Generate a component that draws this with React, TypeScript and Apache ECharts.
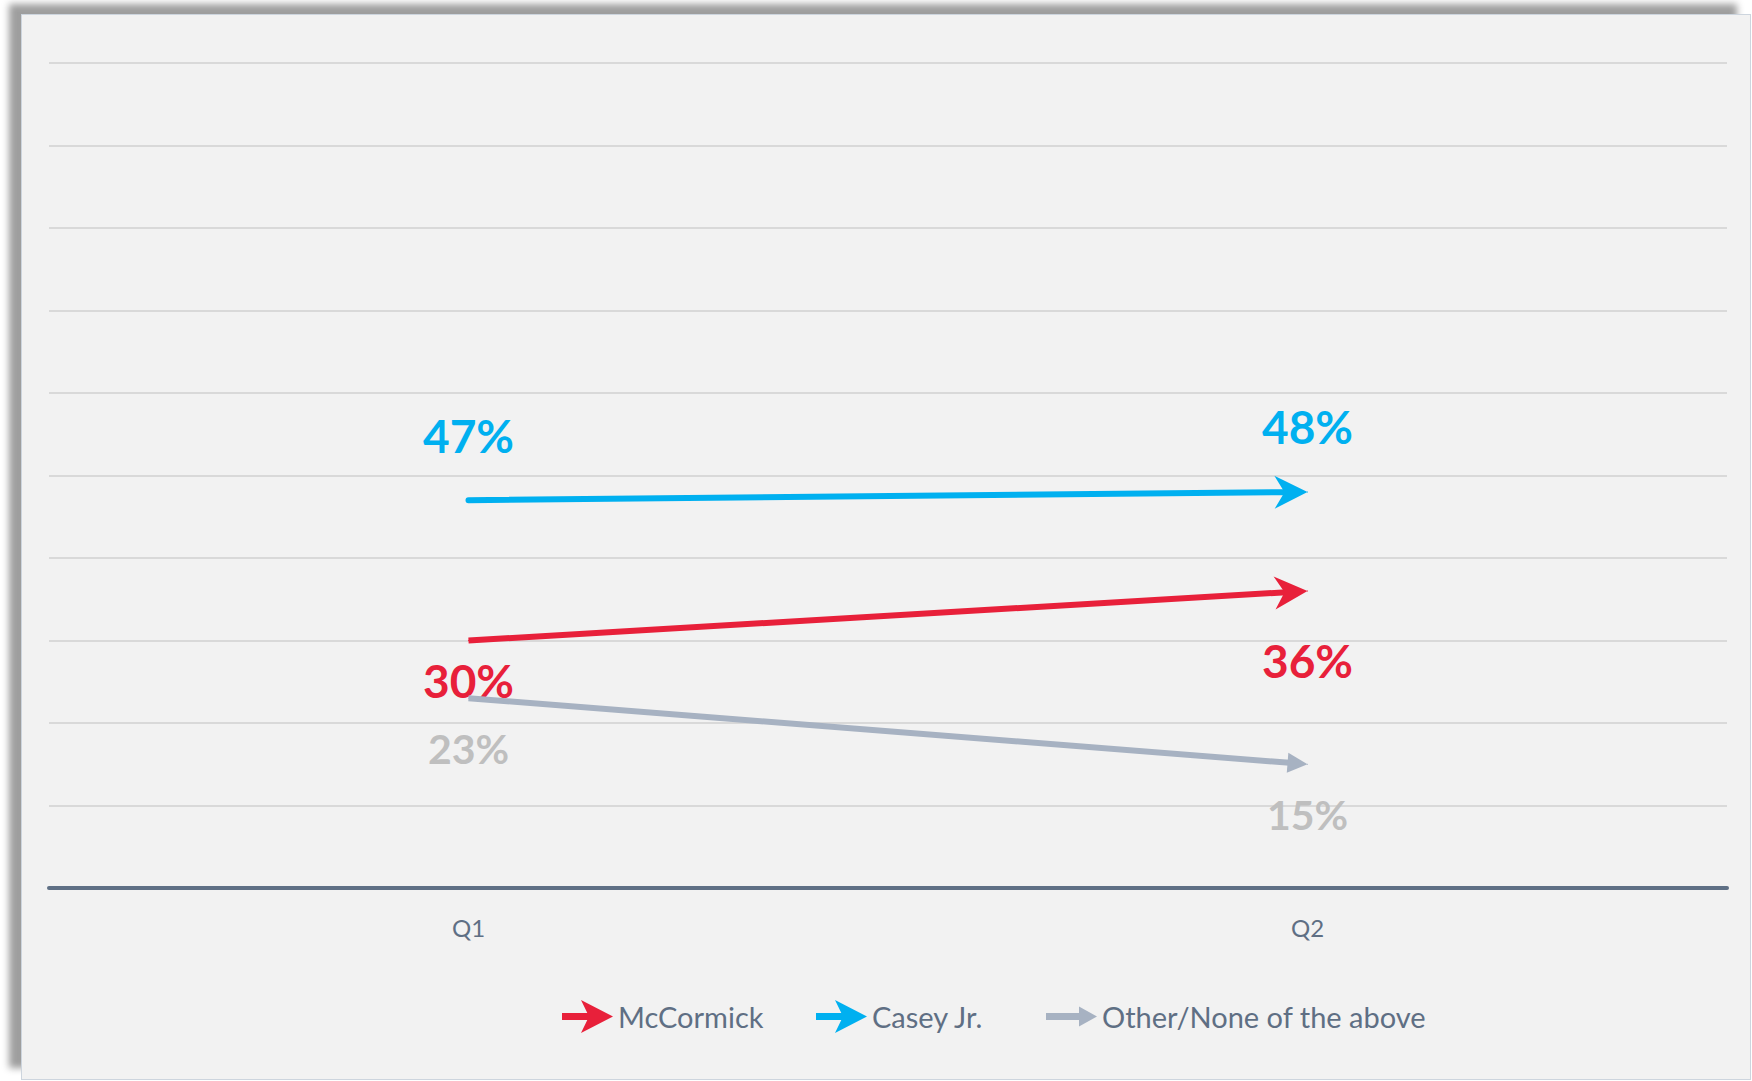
import React, { useEffect, useRef } from "react";
import * as echarts from "echarts";

const categories = ["Q1", "Q2"];
const seriesNames = ["McCormick", "Casey Jr.", "Other/None of the above"];
const mccormick = [30, 36];
const casey = [47, 48];
const other = [23, 15];
const yTicks = [0, 10, 20, 30, 40, 50, 60, 70, 80, 90, 100];

const RED = "#E8203A";
const BLUE = "#00B0F0";
const GREY_LINE = "#A7B2C2";
const GREY_LABEL = "#BFBFBF";
const TEXT = "#5F6F84";
const FONT = "Lato, 'Open Sans', sans-serif";

const stealthIcon =
  "path://M0 13 L28 13 L28 20 L0 20 Z M19 0 L51 16.5 L19 33 L27 16.5 Z";
const triangleIcon =
  "path://M0 0 L0.1 0 L0.1 0.1 Z M51 33 L50.9 33 L50.9 32.9 Z M0 13 L36 13 L36 20 L0 20 Z M33 6.5 L51 16.5 L33 26.5 Z";

function labelSeries(
  name: string,
  values: number[],
  color: string,
  labelColor: string,
  fontSize: number,
  offsets: number[]
) {
  return {
    name,
    type: "line",
    data: values.map((v, i) => ({
      value: v,
      label: { offset: [0, offsets[i]] },
    })),
    symbol: "circle",
    symbolSize: 1,
    showSymbol: true,
    silent: true,
    itemStyle: { color },
    lineStyle: { color, width: 0, opacity: 0 },
    label: {
      show: true,
      position: "inside",
      formatter: "{c}%",
      color: labelColor,
      fontSize,
      fontWeight: "bold",
      fontFamily: FONT,
    },
    z: 2,
  };
}

function arrowSeries(
  values: number[],
  color: string,
  kind: "stealth" | "triangle",
  cap: string
) {
  return {
    type: "custom",
    silent: true,
    z: 3,
    data: [[0, values[0], 1, values[1]]],
    encode: { x: [0, 2], y: [1, 3] },
    renderItem: (params: any, api: any) => {
      const p0 = api.coord([api.value(0), api.value(1)]);
      const p1 = api.coord([api.value(2), api.value(3)]);
      const dx = p1[0] - p0[0];
      const dy = p1[1] - p0[1];
      const len = Math.sqrt(dx * dx + dy * dy);
      const ux = dx / len;
      const uy = dy / len;
      const nx = -uy;
      const ny = ux;
      const headLen = kind === "stealth" ? 33 : 20;
      const halfW = kind === "stealth" ? 16.5 : 10;
      const notch = kind === "stealth" ? 23 : 20;
      const back = [p1[0] - headLen * ux, p1[1] - headLen * uy];
      const nb = [p1[0] - notch * ux, p1[1] - notch * uy];
      const points =
        kind === "stealth"
          ? [
              [p1[0], p1[1]],
              [back[0] + halfW * nx, back[1] + halfW * ny],
              nb,
              [back[0] - halfW * nx, back[1] - halfW * ny],
            ]
          : [
              [p1[0], p1[1]],
              [back[0] + halfW * nx, back[1] + halfW * ny],
              [back[0] - halfW * nx, back[1] - halfW * ny],
            ];
      const shaftEnd = [nb[0] + 2 * ux, nb[1] + 2 * uy];
      return {
        type: "group",
        children: [
          {
            type: "line",
            shape: { x1: p0[0], y1: p0[1], x2: shaftEnd[0], y2: shaftEnd[1] },
            style: { stroke: color, lineWidth: 6, lineCap: cap },
          },
          {
            type: "polygon",
            shape: { points },
            style: { fill: color },
          },
        ],
      };
    },
  };
}

function legendItem(left: number, name: string, icon: string, color: string) {
  return {
    left,
    top: 980,
    itemWidth: 51,
    itemHeight: 33,
    selectedMode: false,
    textStyle: { color: TEXT, fontSize: 29, fontFamily: FONT },
    data: [{ name, icon, itemStyle: { color, opacity: 1, borderWidth: 0 } }],
  };
}

export default function App() {
  const ref = useRef<HTMLDivElement>(null);
  useEffect(() => {
    if (!ref.current) return;
    const chart = echarts.init(ref.current, undefined, { renderer: "svg" });
    chart.setOption({
      animation: false,
      backgroundColor: "#F2F2F2",
      grid: { left: 27, right: 23, top: 48, bottom: 191 },
      legend: [
        legendItem(535, seriesNames[0], stealthIcon, RED),
        legendItem(789, seriesNames[1], stealthIcon, BLUE),
        legendItem(1019, seriesNames[2], triangleIcon, GREY_LINE),
      ],
      xAxis: {
        type: "category",
        data: categories,
        boundaryGap: true,
        axisLine: { show: true, lineStyle: { color: "#5F7085", width: 4 } },
        axisTick: { show: false },
        axisLabel: { color: TEXT, fontSize: 24, fontFamily: FONT, margin: 27 },
        splitLine: { show: false },
        z: 5,
      },
      yAxis: {
        type: "value",
        min: yTicks[0],
        max: yTicks[yTicks.length - 1],
        interval: yTicks[1] - yTicks[0],
        axisLine: { show: false },
        axisTick: { show: false },
        axisLabel: { show: false },
        splitLine: { show: true, lineStyle: { color: "#D9D9D9", width: 2 } },
      },
      series: [
        labelSeries(seriesNames[0], mccormick, RED, RED, 46, [40, 69]),
        labelSeries(seriesNames[1], casey, BLUE, BLUE, 46, [-65, -66]),
        labelSeries(seriesNames[2], other, GREY_LINE, GREY_LABEL, 41, [50, 50]),
        arrowSeries(mccormick, RED, "stealth", "butt"),
        arrowSeries(casey, BLUE, "stealth", "round"),
        arrowSeries(other, GREY_LINE, "triangle", "butt"),
      ],
    });
    return () => chart.dispose();
  }, []);

  return (
    <div
      style={{
        position: "fixed",
        left: 0,
        top: 0,
        width: 1752,
        height: 1081,
        background: "#FFFFFF",
        overflow: "hidden",
      }}
    >
      <div
        style={{
          position: "absolute",
          left: 22,
          top: 15,
          width: 1728,
          height: 1064,
          boxShadow: "-13px -11px 7px rgba(0,0,0,0.38)",
          outline: "1px solid #CDD5DE",
        }}
      >
        <div ref={ref} style={{ width: 1728, height: 1064 }} />
      </div>
    </div>
  );
}
